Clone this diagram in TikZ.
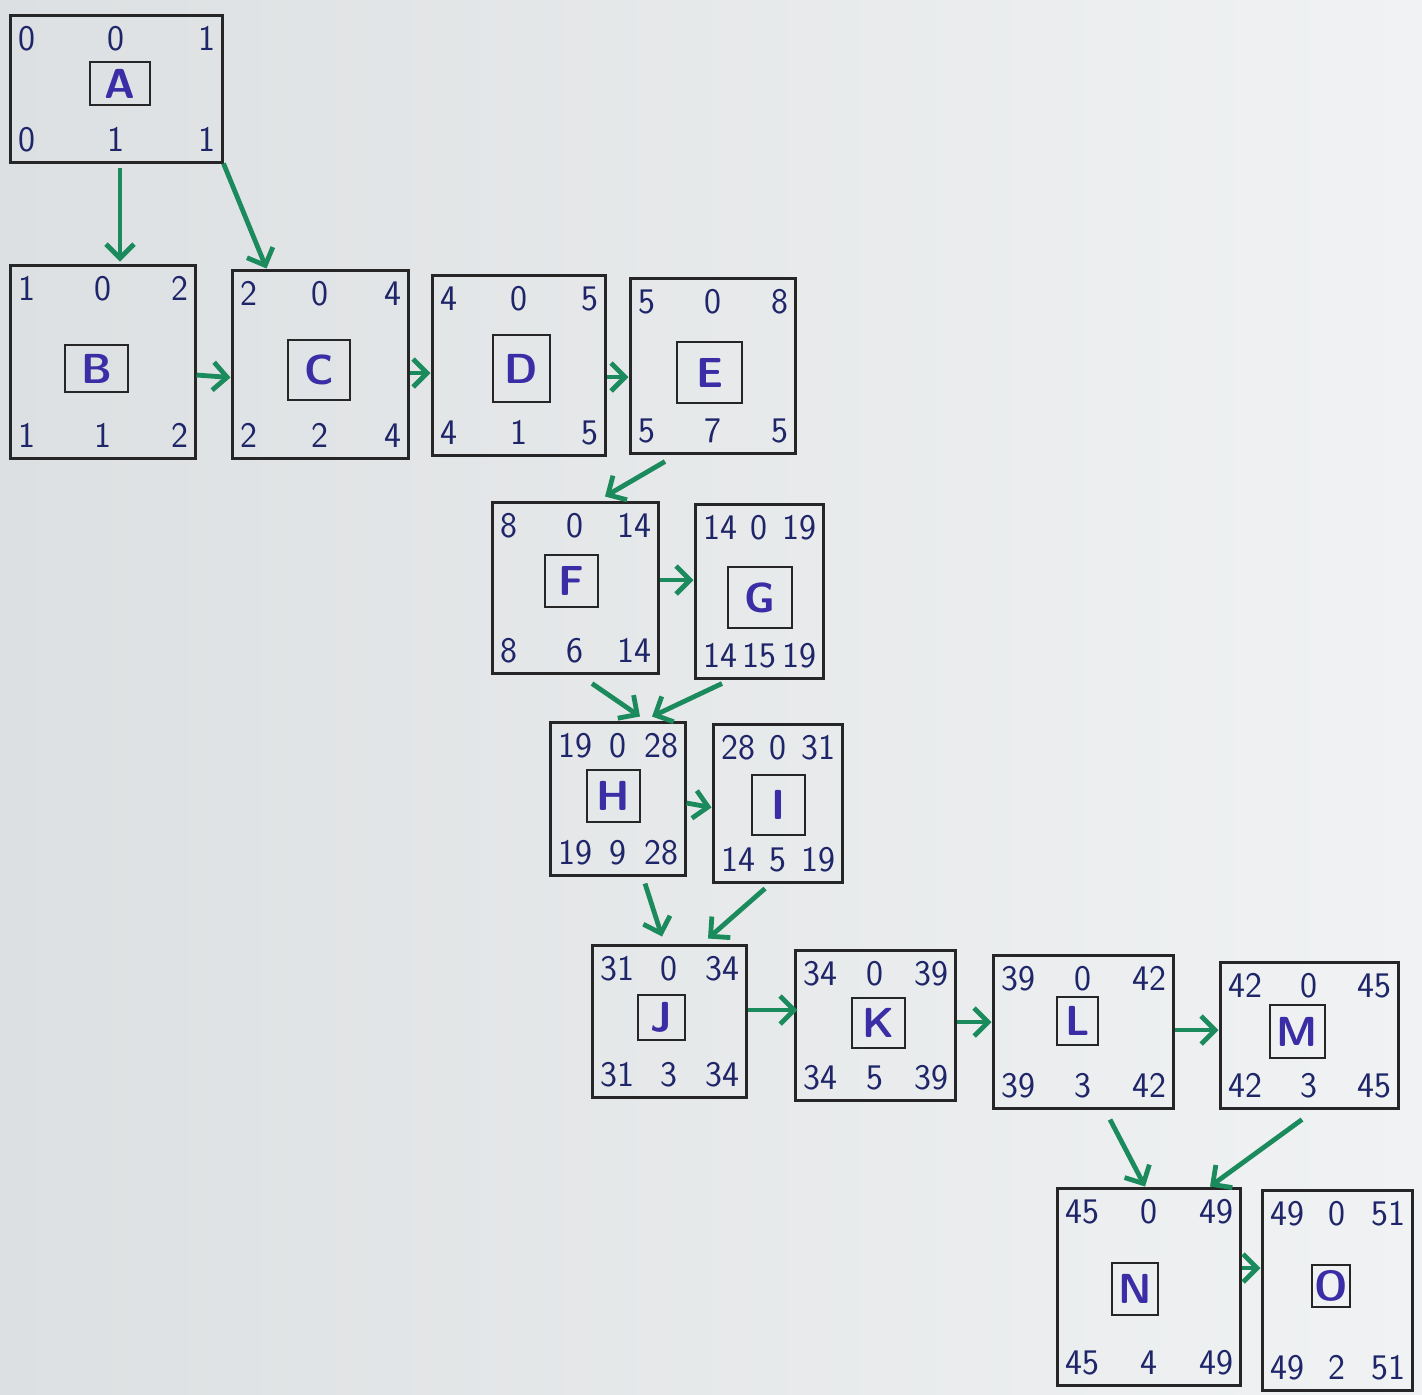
\documentclass[tikz,border=0pt]{standalone}
\usetikzlibrary{fit,arrows.meta}
\definecolor{ink}{HTML}{1E2568}
\definecolor{letterc}{HTML}{3B2DA6}
\definecolor{arrowg}{HTML}{1B8A5C}
\definecolor{bgl}{HTML}{DDE0E2}
\definecolor{bgr}{HTML}{F0F2F3}
\tikzset{
 outer/.style={draw=black!85, line width=1.5pt, inner sep=0pt},
 innerbox/.style={draw=black!85, line width=1.2pt, inner sep=0pt},
 letter/.style={font=\sffamily\bfseries\fontsize{21}{24}\selectfont, text=letterc, inner sep=0pt},
 num/.style={font=\sffamily\fontsize{18}{22}\selectfont, text=ink, inner sep=0pt},
 flow/.style={draw=arrowg, line width=2.4pt, -{Straight Barb[length=7pt,width=14pt,line width=2.4pt]}},
}
\newcommand\actbox[6]{%
 \node[outer, fit={(#2) (#3)}] (#1) {};
 \node[innerbox, fit={(#4) (#5)}] (#1in) {};
 \node[letter] (#1lab) at (#1in.center) {#6};
}
\newcommand\actnums[7]{%
 \node[num, anchor=west] (#1tl) at ([xshift=5pt,yshift=-12.5pt]#1.north west) {#2};
 \node[num] (#1tm) at ([yshift=-12.5pt]#1.north) {#3};
 \node[num, anchor=east] (#1tr) at ([xshift=-4pt,yshift=-12.5pt]#1.north east) {#4};
 \node[num, anchor=west] (#1bl) at ([xshift=5pt,yshift=12pt]#1.south west) {#5};
 \node[num] (#1bm) at ([yshift=12pt]#1.south) {#6};
 \node[num, anchor=east] (#1br) at ([xshift=-4pt,yshift=12pt]#1.south east) {#7};
}
\begin{document}
\begin{tikzpicture}[x=0.5pt,y=-0.5pt]
\fill[left color=bgl, right color=bgr] (0,0) rectangle (1422,1394);
\useasboundingbox (0,0) rectangle (1422,1394);

\actbox{A}{10,15}{222,162}{90,62}{150,105}{A}
\actnums{A}{0}{0}{1}{0}{1}{1}
\actbox{B}{10,265}{195,458}{65,345}{128,392}{B}
\actnums{B}{1}{0}{2}{1}{1}{2}
\actbox{C}{232,270}{408,458}{288,340}{350,400}{C}
\actnums{C}{2}{0}{4}{2}{2}{4}
\actbox{D}{432,275}{605,455}{493,335}{550,402}{D}
\actnums{D}{4}{0}{5}{4}{1}{5}
\actbox{E}{630,278}{795,453}{677,342}{742,403}{E}
\actnums{E}{5}{0}{8}{5}{7}{5}
\actbox{F}{492,502}{658,673}{545,555}{598,607}{F}
\actnums{F}{8}{0}{14}{8}{6}{14}
\actbox{G}{695,504}{823,678}{728,567}{792,628}{G}
\actnums{G}{14}{0}{19}{14}{15}{19}
\actbox{H}{550,722}{685,875}{587,770}{640,822}{H}
\actnums{H}{19}{0}{28}{19}{9}{28}
\actbox{I}{713,724}{842,882}{752,775}{805,835}{I}
\actnums{I}{28}{0}{31}{14}{5}{19}
\actbox{J}{592,945}{746,1097}{638,995}{685,1040}{J}
\actnums{J}{31}{0}{34}{31}{3}{34}
\actbox{K}{795,950}{955,1100}{852,998}{905,1048}{K}
\actnums{K}{34}{0}{39}{34}{5}{39}
\actbox{L}{993,955}{1173,1108}{1057,997}{1098,1045}{L}
\actnums{L}{39}{0}{42}{39}{3}{42}
\actbox{M}{1220,962}{1398,1108}{1270,1005}{1325,1058}{M}
\actnums{M}{42}{0}{45}{42}{3}{45}
\actbox{N}{1057,1188}{1240,1385}{1112,1263}{1158,1315}{N}
\actnums{N}{45}{0}{49}{45}{4}{49}
\actbox{O}{1262,1190}{1412,1390}{1312,1265}{1350,1307}{O}
\actnums{O}{49}{0}{51}{49}{2}{51}

\draw[flow] ([xshift=2pt,yshift=-2pt]A.south) -- ([xshift=8.75pt,yshift=1pt]B.north);
\draw[flow] (A.south east) -- ([xshift=18pt]C.north west);
\draw[flow] ([yshift=-6.75pt]B.east) -- ([yshift=-6.75pt]C.west);
\draw[flow] ([yshift=-4.5pt]C.east) -- ([yshift=-4pt]D.west);
\draw[flow] ([yshift=-6pt]D.east) -- ([yshift=-5.75pt]E.west);
\draw[flow] ([xshift=-23.75pt,yshift=-3.5pt]E.south) -- ([xshift=15pt,yshift=2pt]F.north);
\draw[flow] ([yshift=3.75pt]F.east) -- ([yshift=5.5pt]G.west);
\draw[flow] ([xshift=8.5pt,yshift=-4.5pt]F.south) -- ([xshift=11.25pt,yshift=2pt]H.north);
\draw[flow] ([xshift=-18.5pt,yshift=-2pt]G.south) -- ([xshift=17.25pt,yshift=2pt]H.north);
\draw[flow] ([yshift=-2.25pt]H.east) -- ([yshift=-2.25pt]I.west);
\draw[flow] ([xshift=13.75pt,yshift=-3.5pt]H.south) -- ([xshift=-3.5pt,yshift=3.5pt]J.north);
\draw[flow] ([xshift=-6.25pt,yshift=-2.5pt]I.south) -- ([xshift=19.5pt,yshift=2.5pt]J.north);
\draw[flow] ([yshift=5.5pt]J.east) -- ([yshift=7.5pt,xshift=2pt]K.west);
\draw[flow] ([yshift=1.5pt]K.east) -- ([yshift=4.75pt]L.west);
\draw[flow] ([yshift=0.75pt]L.east) -- ([yshift=2.5pt]M.west);
\draw[flow] ([xshift=13.5pt,yshift=-5pt]L.south) -- ([xshift=-1.75pt]N.north);
\draw[flow] ([xshift=-3.5pt,yshift=-5pt]M.south) -- ([xshift=30.75pt]N.north);
\draw[flow] ([yshift=9.25pt]N.east) -- ([yshift=11pt]O.west);
\end{tikzpicture}
\end{document}
